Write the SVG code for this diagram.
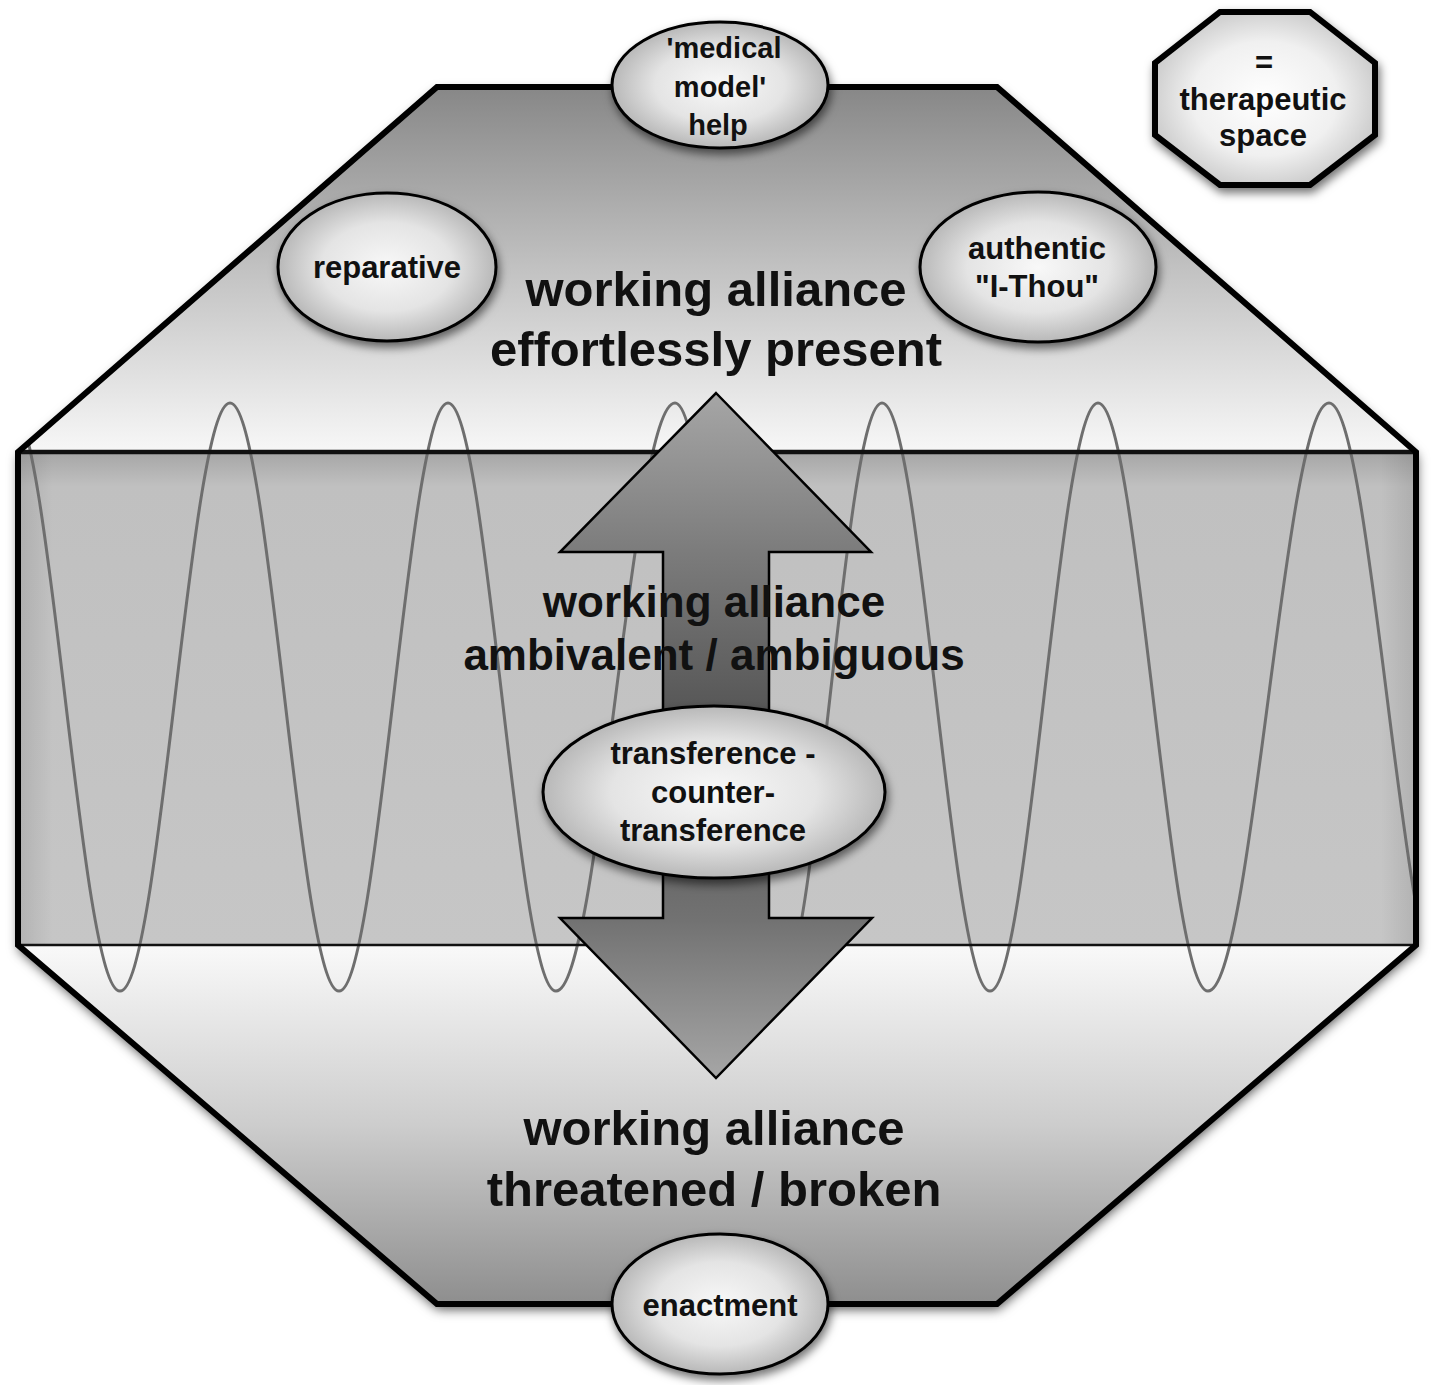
<svg xmlns="http://www.w3.org/2000/svg" width="1436" height="1385" viewBox="0 0 1436 1385">
  <style>
    .t { font-family: "Liberation Sans", Arial, sans-serif; font-weight: bold; fill: #111; text-anchor: middle; }
    .big { font-size: 49px; }
    .mid { font-size: 44px; }
    .sm { font-size: 31px; }
    .xs { font-size: 29px; }
    .ell { fill: url(#ellGrad); stroke: #000; stroke-width: 3; filter: url(#soft); }
    .wave { fill: none; stroke: #6e6e6e; stroke-width: 3; }
  </style>
  <defs>
    <linearGradient id="topGrad" x1="0" y1="87" x2="0" y2="452" gradientUnits="userSpaceOnUse">
      <stop offset="0" stop-color="#878787"/>
      <stop offset="0.5" stop-color="#c2c2c2"/>
      <stop offset="1" stop-color="#f7f7f7"/>
    </linearGradient>
    <linearGradient id="midGrad" x1="0" y1="452" x2="0" y2="945" gradientUnits="userSpaceOnUse">
      <stop offset="0" stop-color="#a6a6a6"/>
      <stop offset="0.07" stop-color="#c0c0c0"/>
      <stop offset="1" stop-color="#c6c6c6"/>
    </linearGradient>
    <linearGradient id="edgeGrad" x1="18" y1="0" x2="1416" y2="0" gradientUnits="userSpaceOnUse">
      <stop offset="0" stop-color="#000" stop-opacity="0.10"/>
      <stop offset="0.025" stop-color="#000" stop-opacity="0"/>
      <stop offset="0.975" stop-color="#000" stop-opacity="0"/>
      <stop offset="1" stop-color="#000" stop-opacity="0.10"/>
    </linearGradient>
    <linearGradient id="botGrad" x1="0" y1="945" x2="0" y2="1304" gradientUnits="userSpaceOnUse">
      <stop offset="0" stop-color="#f9f9f9"/>
      <stop offset="0.5" stop-color="#cdcdcd"/>
      <stop offset="1" stop-color="#8e8e8e"/>
    </linearGradient>
    <linearGradient id="arrowGrad" x1="0" y1="393" x2="0" y2="1078" gradientUnits="userSpaceOnUse">
      <stop offset="0" stop-color="#a6a6a6"/>
      <stop offset="0.23" stop-color="#7c7c7c"/>
      <stop offset="0.5" stop-color="#515151"/>
      <stop offset="0.77" stop-color="#727272"/>
      <stop offset="1" stop-color="#a6a6a6"/>
    </linearGradient>
    <radialGradient id="ellGrad" cx="0.5" cy="0.5" r="0.5">
      <stop offset="0" stop-color="#f8f8f8"/>
      <stop offset="0.6" stop-color="#e4e4e4"/>
      <stop offset="1" stop-color="#b8b8b8"/>
    </radialGradient>
    <radialGradient id="legGrad" cx="0.5" cy="0.5" r="0.55">
      <stop offset="0" stop-color="#ffffff"/>
      <stop offset="0.6" stop-color="#f0f0f0"/>
      <stop offset="1" stop-color="#c8c8c8"/>
    </radialGradient>
    <filter id="shadow" x="-10%" y="-10%" width="120%" height="120%">
      <feDropShadow dx="1" dy="5" stdDeviation="6" flood-color="#000" flood-opacity="0.7"/>
    </filter>
    <filter id="soft" x="-20%" y="-20%" width="140%" height="150%">
      <feDropShadow dx="2" dy="5" stdDeviation="5" flood-color="#000" flood-opacity="0.55"/>
    </filter>
    <clipPath id="octClip">
      <path d="M437,87 L997,87 L1416,452 L1416,945 L997,1304 L437,1304 L18,945 L18,452 Z"/>
    </clipPath>
  </defs>

  <g id="therapeutic-space">
    <path d="M437,87 L997,87 L1416,452 L1416,945 L997,1304 L437,1304 L18,945 L18,452 Z" fill="#c4c4c4" filter="url(#shadow)"/>
    <path id="zone-top" d="M437,87 L997,87 L1416,452 L18,452 Z" fill="url(#topGrad)"/>
    <rect id="zone-middle" x="18" y="452" width="1398" height="493" fill="url(#midGrad)"/>
    <rect x="18" y="452" width="1398" height="493" fill="url(#edgeGrad)"/>
    <path id="zone-bottom" d="M18,945 L1416,945 L997,1304 L437,1304 Z" fill="url(#botGrad)"/>
    <path id="wave" class="wave" clip-path="url(#octClip)" d="M10,403 C50,403 80,991 120,991 C160,991 190,403 230,403 C269.7,403 299.3,991 339,991 C378.7,991 408.3,403 448,403 C487.3,403 516.7,991 556,991 C599.3,991 631.7,403 675,403 C712.5,403 740.5,991 778,991 C815.9,991 844.1,403 882,403 C921.3,403 950.7,991 990,991 C1029.3,991 1058.7,403 1098,403 C1138,403 1168,991 1208,991 C1252,991 1285,403 1329,403 C1371.2,403 1402.8,991 1445,991"/>
    <line x1="18" y1="452" x2="1416" y2="452" stroke="#111" stroke-width="4.5"/>
    <line x1="18" y1="945" x2="1416" y2="945" stroke="#111" stroke-width="2.5"/>
    <path d="M437,87 L997,87 L1416,452 L1416,945 L997,1304 L437,1304 L18,945 L18,452 Z" fill="none" stroke="#000" stroke-width="6" stroke-linejoin="miter"/>
  </g>

  <g id="connectors">
    <path id="double-arrow" d="M716,393 L871,552 L769,552 L769,918 L872,918 L716,1078 L560,918 L663,918 L663,552 L560,552 Z" fill="url(#arrowGrad)" stroke="#000" stroke-width="2.5" stroke-linejoin="miter"/>
  </g>

  <g id="label-top">
    <text class="t big" x="716" y="306">working alliance</text>
    <text class="t big" x="716" y="366">effortlessly present</text>
  </g>
  <g id="label-middle">
    <text class="t mid" x="714" y="617">working alliance</text>
    <text class="t mid" x="714" y="670">ambivalent / ambiguous</text>
  </g>
  <g id="label-bottom">
    <text class="t big" x="714" y="1145">working alliance</text>
    <text class="t big" x="714" y="1206">threatened / broken</text>
  </g>

  <g id="node-medical-model">
    <ellipse class="ell" cx="720" cy="85" rx="108" ry="63"/>
    <text class="t xs" x="724" y="58">'medical</text>
    <text class="t xs" x="720" y="97">model'</text>
    <text class="t xs" x="718" y="135">help</text>
  </g>
  <g id="node-reparative">
    <ellipse class="ell" cx="387" cy="267" rx="109" ry="74"/>
    <text class="t sm" x="387" y="278">reparative</text>
  </g>
  <g id="node-authentic">
    <ellipse class="ell" cx="1038" cy="267" rx="118" ry="75"/>
    <text class="t sm" x="1037" y="259">authentic</text>
    <text class="t sm" x="1037" y="297">"I-Thou"</text>
  </g>
  <g id="node-transference">
    <ellipse class="ell" cx="714" cy="792" rx="171" ry="86"/>
    <text class="t sm" x="713" y="764">transference -</text>
    <text class="t sm" x="713" y="803">counter-</text>
    <text class="t sm" x="713" y="841">transference</text>
  </g>
  <g id="node-enactment">
    <ellipse class="ell" cx="720" cy="1304" rx="108" ry="70"/>
    <text class="t sm" x="720" y="1316">enactment</text>
  </g>

  <g id="legend">
    <path d="M1220,12 L1310,12 L1375,63 L1375,135 L1310,185 L1220,185 L1155,135 L1155,63 Z" fill="url(#legGrad)" stroke="#000" stroke-width="6" filter="url(#soft)"/>
    <text class="t sm" x="1264" y="73">=</text>
    <text class="t sm" x="1263" y="110">therapeutic</text>
    <text class="t sm" x="1263" y="146">space</text>
  </g>
</svg>
